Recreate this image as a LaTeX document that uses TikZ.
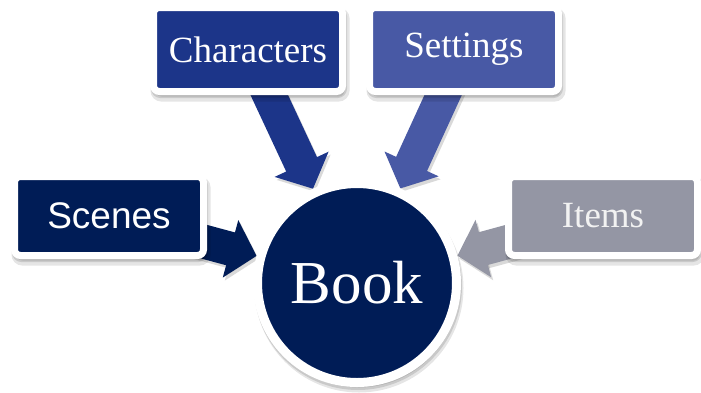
\documentclass[tikz,border=0pt]{standalone}
\usepackage{fontspec}
\setmainfont{Liberation Serif}
\newfontfamily\arialfont{Liberation Sans}
\usetikzlibrary{arrows.meta,backgrounds}
\definecolor{navy}{RGB}{0,28,86}
\definecolor{royal}{RGB}{28,53,137}
\definecolor{slateblue}{RGB}{72,89,165}
\definecolor{greyblue}{RGB}{148,150,164}
\definecolor{offwhite}{RGB}{242,242,242}
\begin{document}
\begin{tikzpicture}[x=1pt,y=-1pt,
  softshadow/.style={
    preaction={draw=black,fill=black,opacity=.10,line width=10pt,transform canvas={shift={(2pt,-5pt)}}},
    preaction={draw=black,fill=black,opacity=.12,transform canvas={shift={(1pt,-3pt)}}}},
  box/.style={softshadow,draw=white,line width=7pt,rounded corners=6pt,
    minimum width=189pt,inner sep=0pt,text=white,
    font=\fontsize{37}{40}\selectfont},
  bookstyle/.style={softshadow,circle,draw=white,line width=9pt,fill=navy,
    minimum size=199pt,inner sep=0pt,text=white,font=\fontsize{61}{66}\selectfont},
  blockarrow/.style={line width=34pt,-{Triangle[width=58pt,length=27pt]}},
  arrowshadow/.style={blockarrow,draw=black,opacity=.15}
]
\useasboundingbox (0,0) rectangle (701,392);

\node[bookstyle] (book) at (357,283) {Book};
\node[box,fill=navy,minimum height=79pt,font=\arialfont\fontsize{37}{40}\selectfont] (scenes) at (109,216) {Scenes};
\node[box,fill=royal,minimum height=84pt] (characters) at (248,49.5) {Characters};
\node[box,fill=slateblue,minimum height=84pt] (settings) at (464,49.5) {Settings};
\node[box,fill=greyblue,minimum height=79pt,text=offwhite] (items) at (603,216) {Items};

\begin{scope}[on background layer]
  \begin{scope}[transform canvas={shift={(2pt,-3pt)}}]
    \draw[arrowshadow] (scenes.center) -- (book);
    \draw[arrowshadow] (characters.center) -- (book);
    \draw[arrowshadow] (settings.center) -- (book);
    \draw[arrowshadow] (items.center) -- (book);
  \end{scope}
  \draw[blockarrow,navy] (scenes.center) -- (book);
  \draw[blockarrow,royal] (characters.center) -- (book);
  \draw[blockarrow,slateblue] (settings.center) -- (book);
  \draw[blockarrow,greyblue] (items.center) -- (book);
\end{scope}
\end{tikzpicture}
\end{document}
